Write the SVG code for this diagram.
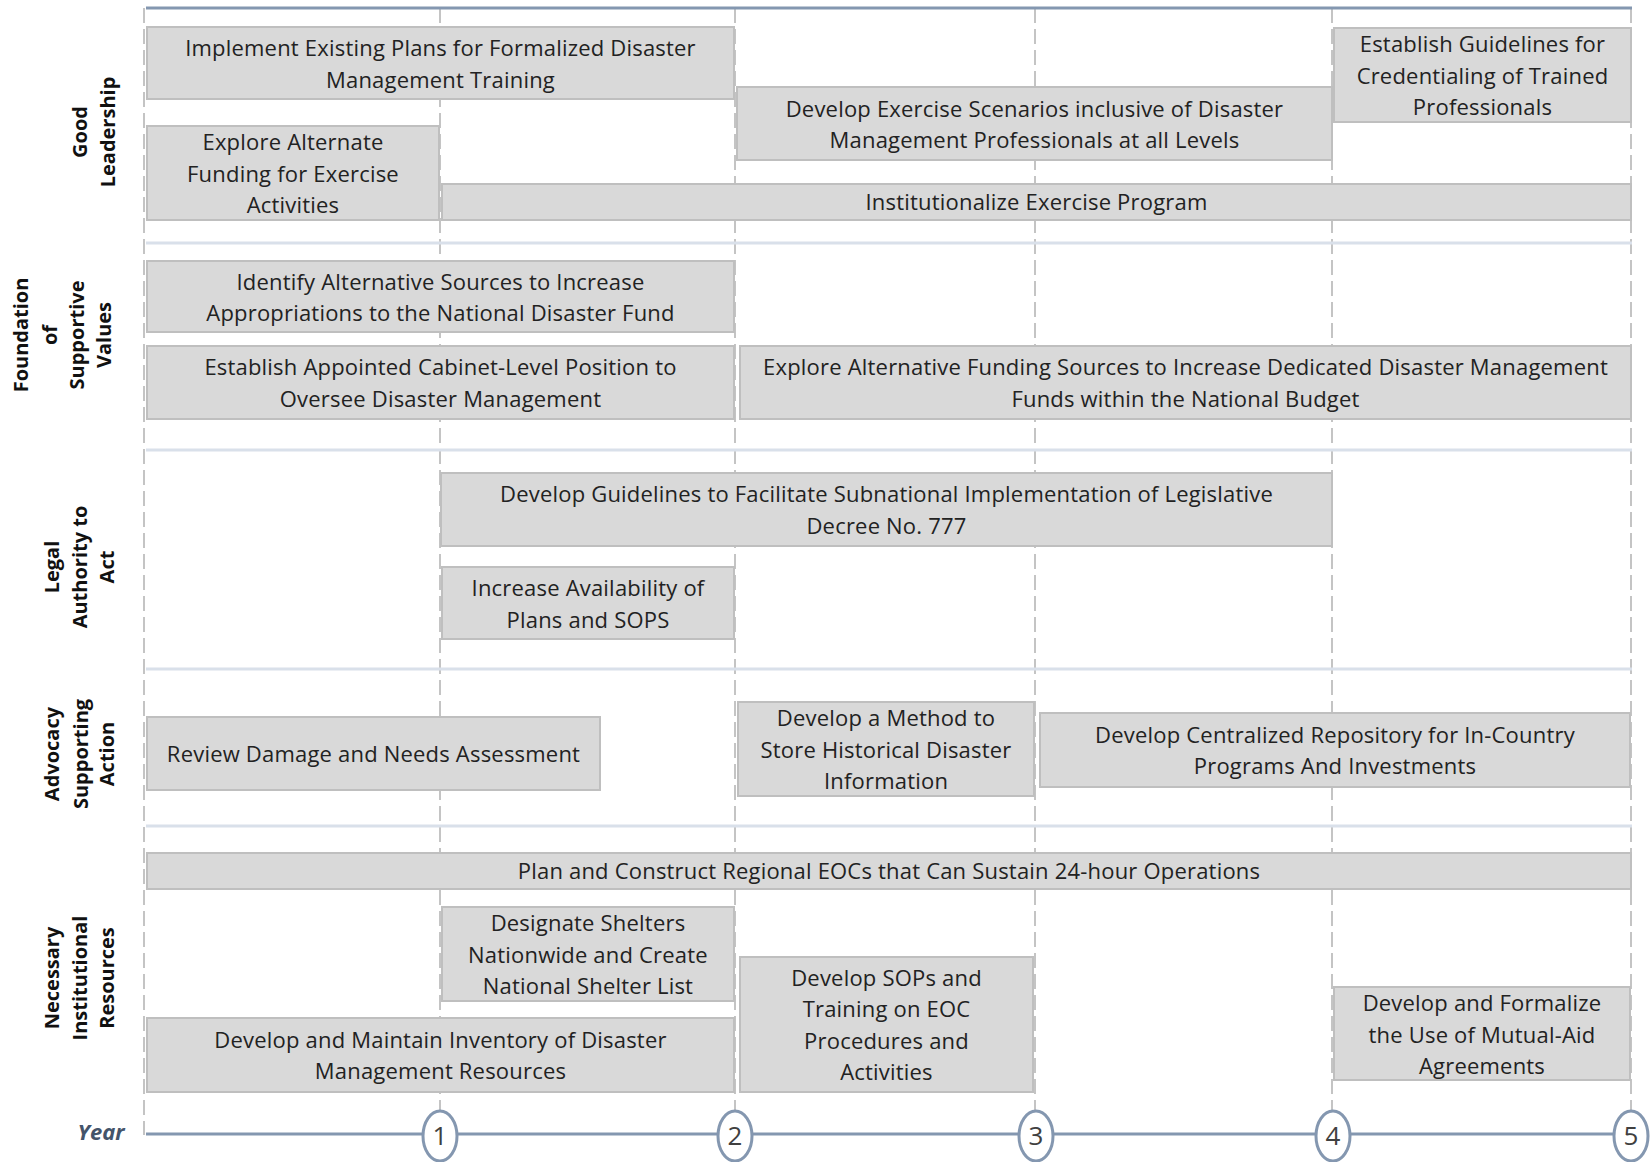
<svg xmlns="http://www.w3.org/2000/svg" width="1652" height="1162" viewBox="0 0 1652 1162">
<style>
.bg{fill:#ffffff}
.vd{stroke:#c4c4c4;stroke-width:2;stroke-dasharray:15 6;fill:none}
.sep{stroke:#d9e0ea;stroke-width:3;fill:none}
.top{stroke:#8497b0;stroke-width:3;fill:none}
.axis{stroke:#8497b0;stroke-width:3;fill:none}
.box{fill:#d9d9d9;stroke:#bfbfbf;stroke-width:2}
.t{font-family:"Open Sans","Liberation Sans",sans-serif;font-size:22px;letter-spacing:0.2px;fill:#222222;text-anchor:middle}
.lab{font-family:"Open Sans","Liberation Sans",sans-serif;font-size:20px;font-weight:bold;fill:#111111;text-anchor:middle}
.yr{font-family:"Open Sans","Liberation Sans",sans-serif;font-size:22px;font-weight:bold;font-style:italic;fill:#44546a;text-anchor:middle}
.circ{fill:#ffffff;stroke:#8497b0;stroke-width:3}
.num{font-family:"Open Sans","Liberation Sans",sans-serif;font-size:26px;fill:#404040;text-anchor:middle}
</style>
<rect class="bg" x="0" y="0" width="1652" height="1162"/>

<g id="grid">
  <line class="vd" x1="144" y1="8" x2="144" y2="1135"/>
  <line class="vd" x1="440" y1="8" x2="440" y2="1112"/>
  <line class="vd" x1="735" y1="8" x2="735" y2="1112"/>
  <line class="vd" x1="1035" y1="8" x2="1035" y2="1112"/>
  <line class="vd" x1="1332" y1="8" x2="1332" y2="1112"/>
  <line class="vd" x1="1631" y1="8" x2="1631" y2="1112"/>
  <line class="top" x1="146" y1="8" x2="1632" y2="8"/>
  <line class="sep" x1="146" y1="243" x2="1632" y2="243"/>
  <line class="sep" x1="146" y1="450" x2="1632" y2="450"/>
  <line class="sep" x1="146" y1="669" x2="1632" y2="669"/>
  <line class="sep" x1="146" y1="826" x2="1632" y2="826"/>
</g>

<g id="row-labels">
  <g id="label-good-leadership">
    <text class="lab" transform="translate(87,132) rotate(-90)">Good</text>
    <text class="lab" transform="translate(115,132) rotate(-90)">Leadership</text>
  </g>
  <g id="label-foundation">
    <text class="lab" transform="translate(28,335) rotate(-90)">Foundation</text>
    <text class="lab" transform="translate(57,335) rotate(-90)">of</text>
    <text class="lab" transform="translate(84,335) rotate(-90)">Supportive</text>
    <text class="lab" transform="translate(111,335) rotate(-90)">Values</text>
  </g>
  <g id="label-legal">
    <text class="lab" transform="translate(59,567) rotate(-90)">Legal</text>
    <text class="lab" transform="translate(87,567) rotate(-90)">Authority to</text>
    <text class="lab" transform="translate(114,567) rotate(-90)">Act</text>
  </g>
  <g id="label-advocacy">
    <text class="lab" transform="translate(59,754) rotate(-90)">Advocacy</text>
    <text class="lab" transform="translate(88,754) rotate(-90)">Supporting</text>
    <text class="lab" transform="translate(114,754) rotate(-90)">Action</text>
  </g>
  <g id="label-necessary">
    <text class="lab" transform="translate(59,978) rotate(-90)">Necessary</text>
    <text class="lab" transform="translate(87,978) rotate(-90)">Institutional</text>
    <text class="lab" transform="translate(114,978) rotate(-90)">Resources</text>
  </g>
</g>

<g id="n1">
  <rect class="box" x="147" y="27" width="587" height="72"/>
  <text class="t" x="440.5" y="56">Implement Existing Plans for Formalized Disaster</text>
  <text class="t" x="440.5" y="87.5">Management Training</text>
</g>
<g id="n2">
  <rect class="box" x="147" y="126" width="292" height="94"/>
  <text class="t" x="293" y="150">Explore Alternate</text>
  <text class="t" x="293" y="181.5">Funding for Exercise</text>
  <text class="t" x="293" y="213">Activities</text>
</g>
<g id="n3">
  <rect class="box" x="737" y="87" width="595" height="73"/>
  <text class="t" x="1034.5" y="116.5">Develop Exercise Scenarios inclusive of Disaster</text>
  <text class="t" x="1034.5" y="148">Management Professionals at all Levels</text>
</g>
<g id="n4">
  <rect class="box" x="1334" y="28" width="297" height="94"/>
  <text class="t" x="1482.5" y="52">Establish Guidelines for</text>
  <text class="t" x="1482.5" y="83.5">Credentialing of Trained</text>
  <text class="t" x="1482.5" y="115">Professionals</text>
</g>
<g id="n5">
  <rect class="box" x="442" y="184" width="1189" height="36"/>
  <text class="t" x="1036.5" y="210">Institutionalize Exercise Program</text>
</g>

<g id="n6">
  <rect class="box" x="147" y="261" width="587" height="71"/>
  <text class="t" x="440.5" y="289.5">Identify Alternative Sources to Increase</text>
  <text class="t" x="440.5" y="321">Appropriations to the National Disaster Fund</text>
</g>
<g id="n7">
  <rect class="box" x="147" y="346" width="587" height="73"/>
  <text class="t" x="440.5" y="375">Establish Appointed Cabinet-Level Position to</text>
  <text class="t" x="440.5" y="406.5">Oversee Disaster Management</text>
</g>
<g id="n8">
  <rect class="box" x="740" y="346" width="891" height="73"/>
  <text class="t" x="1185.5" y="375">Explore Alternative Funding Sources to Increase Dedicated Disaster Management</text>
  <text class="t" x="1185.5" y="406.5">Funds within the National Budget</text>
</g>

<g id="n9">
  <rect class="box" x="441" y="473" width="891" height="73"/>
  <text class="t" x="886.5" y="502">Develop Guidelines to Facilitate Subnational Implementation of Legislative</text>
  <text class="t" x="886.5" y="533.5">Decree No. 777</text>
</g>
<g id="n10">
  <rect class="box" x="442" y="567" width="292" height="72"/>
  <text class="t" x="588" y="596">Increase Availability of</text>
  <text class="t" x="588" y="627.5">Plans and SOPS</text>
</g>

<g id="n11">
  <rect class="box" x="147" y="717" width="453" height="73"/>
  <text class="t" x="373.5" y="761.5">Review Damage and Needs Assessment</text>
</g>
<g id="n12">
  <rect class="box" x="738" y="702" width="296" height="94"/>
  <text class="t" x="886" y="726">Develop a Method to</text>
  <text class="t" x="886" y="757.5">Store Historical Disaster</text>
  <text class="t" x="886" y="789">Information</text>
</g>
<g id="n13">
  <rect class="box" x="1040" y="713" width="590" height="74"/>
  <text class="t" x="1335" y="742.5">Develop Centralized Repository for In-Country</text>
  <text class="t" x="1335" y="774">Programs And Investments</text>
</g>

<g id="n14">
  <rect class="box" x="147" y="853" width="1484" height="36"/>
  <text class="t" x="889" y="879">Plan and Construct Regional EOCs that Can Sustain 24-hour Operations</text>
</g>
<g id="n15">
  <rect class="box" x="442" y="907" width="292" height="94"/>
  <text class="t" x="588" y="931">Designate Shelters</text>
  <text class="t" x="588" y="962.5">Nationwide and Create</text>
  <text class="t" x="588" y="994">National Shelter List</text>
</g>
<g id="n16">
  <rect class="box" x="147" y="1018" width="587" height="74"/>
  <text class="t" x="440.5" y="1047.5">Develop and Maintain Inventory of Disaster</text>
  <text class="t" x="440.5" y="1079">Management Resources</text>
</g>
<g id="n17">
  <rect class="box" x="740" y="957" width="293" height="135"/>
  <text class="t" x="886.5" y="985.5">Develop SOPs and</text>
  <text class="t" x="886.5" y="1017">Training on EOC</text>
  <text class="t" x="886.5" y="1048.5">Procedures and</text>
  <text class="t" x="886.5" y="1080">Activities</text>
</g>
<g id="n18">
  <rect class="box" x="1334" y="987" width="296" height="93"/>
  <text class="t" x="1482" y="1011">Develop and Formalize</text>
  <text class="t" x="1482" y="1042.5">the Use of Mutual-Aid</text>
  <text class="t" x="1482" y="1074">Agreements</text>
</g>

<g id="connectors">
  <line class="axis" x1="146" y1="1134" x2="1614" y2="1134"/>
</g>

<g id="year-axis">
  <text class="yr" x="101" y="1140">Year</text>
  <g id="year1">
    <ellipse class="circ" cx="440" cy="1136" rx="17" ry="25"/>
    <text class="num" x="440" y="1145">1</text>
  </g>
  <g id="year2">
    <ellipse class="circ" cx="735" cy="1136" rx="17" ry="25"/>
    <text class="num" x="735" y="1145">2</text>
  </g>
  <g id="year3">
    <ellipse class="circ" cx="1036" cy="1136" rx="17" ry="25"/>
    <text class="num" x="1036" y="1145">3</text>
  </g>
  <g id="year4">
    <ellipse class="circ" cx="1333" cy="1136" rx="17" ry="25"/>
    <text class="num" x="1333" y="1145">4</text>
  </g>
  <g id="year5">
    <ellipse class="circ" cx="1631" cy="1136" rx="17" ry="25"/>
    <text class="num" x="1631" y="1145">5</text>
  </g>
</g>
</svg>
